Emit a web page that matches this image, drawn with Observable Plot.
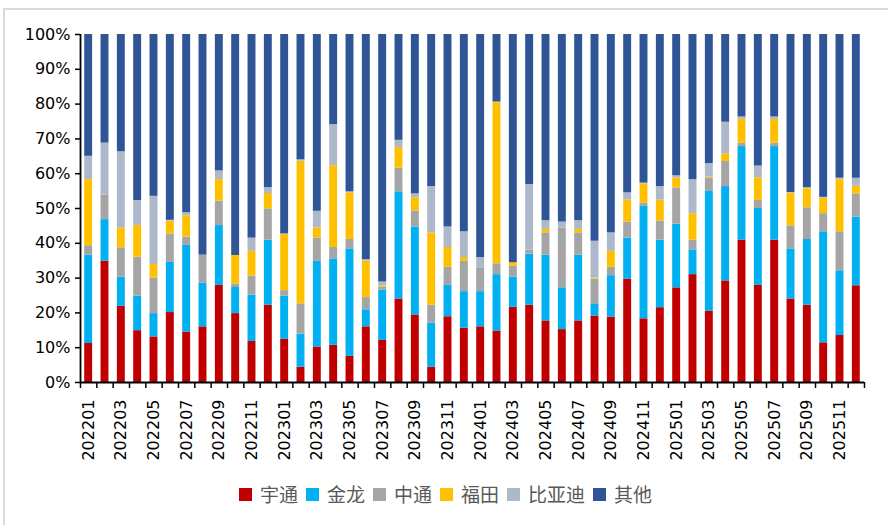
<!DOCTYPE html>
<html>
<head>
<meta charset="utf-8">
<script src="https://cdn.jsdelivr.net/npm/d3@7"></script>
<script src="https://cdn.jsdelivr.net/npm/@observablehq/plot@0.6"></script>
<style>
  html, body { margin: 0; padding: 0; background: #fff; }
  #wrap { position: relative; width: 888px; height: 525px; overflow: hidden; background: #fff; }
  #frame { position: absolute; left: 3px; top: 8px; width: 900px; height: 600px;
           border-left: 2px solid #d9d9d9; border-top: 2px solid #d9d9d9; box-sizing: border-box; }
  #chart { position: absolute; left: 0; top: 0; }
  #legend { position: absolute; left: 239px; top: 483px; display: flex; align-items: center;
            font-family: "Noto Sans CJK SC", sans-serif; font-size: 19px; color: #595959; line-height: 22px; }
  .item { display: flex; align-items: center; margin-right: 8px; }
  .sw { width: 13px; height: 13px; margin-right: 8px; }
</style>
</head>
<body>
<div id="wrap">
  <div id="frame"></div>
  <div id="chart"></div>
  <div id="legend"></div>
</div>
<script>
const months = ["202201","202202","202203","202204","202205","202206","202207","202208","202209","202210","202211","202212",
  "202301","202302","202303","202304","202305","202306","202307","202308","202309","202310","202311","202312",
  "202401","202402","202403","202404","202405","202406","202407","202408","202409","202410","202411","202412",
  "202501","202502","202503","202504","202505","202506","202507","202508","202509","202510","202511","202512"];

const seriesNames = ["宇通","金龙","中通","福田","比亚迪","其他"];
const seriesColors = ["#C00000","#00B0F0","#A5A5A5","#FFC000","#ADB9CA","#2F5597"];

const yutong = [11.2,34.9,21.9,14.9,13.1,20.1,14.5,16.0,27.9,19.8,11.8,22.2,
  12.4,4.4,10.2,10.7,7.5,16.0,12.1,24.0,19.4,4.4,18.9,15.6,
  16.0,14.8,21.6,22.2,17.7,15.2,17.7,19.1,18.8,29.7,18.3,21.5,
  27.2,31.0,20.5,29.2,40.9,27.9,40.9,24.0,22.2,11.4,13.5,27.8];
const jinlong = [25.4,11.9,8.4,9.9,6.7,14.4,24.9,12.5,17.2,7.5,13.3,18.7,
  12.4,9.5,24.6,24.8,30.9,4.9,14.4,30.8,25.3,12.6,9.0,10.5,
  10.1,16.2,8.7,14.7,18.9,12.0,18.9,3.5,11.9,11.8,32.3,19.4,
  18.3,7.1,34.4,27.1,26.9,22.1,26.9,14.4,18.9,31.9,18.6,19.7];
const zhongtong = [2.7,7.0,8.4,11.2,10.2,8.2,2.4,8.1,7.0,1.0,5.5,9.0,
  1.6,8.7,6.7,3.3,2.7,3.5,0.9,6.8,4.6,5.2,5.2,8.7,
  6.7,3.1,3.1,1.1,6.4,17.2,6.4,7.1,2.4,4.6,1.0,5.5,
  10.4,2.8,3.9,7.2,1.0,2.3,1.0,6.6,9.1,5.2,11.2,6.7];
const futian = [19.0,0,5.7,9.1,3.9,3.7,6.1,0,6.2,8.2,7.1,4.4,
  16.1,41.0,2.9,23.5,13.4,10.5,0.4,5.9,3.8,20.8,5.7,1.1,
  0,46.3,1.0,0,1.0,0,1.0,0.3,4.6,6.3,5.5,6.0,
  2.9,7.6,0.3,2.2,6.8,6.5,6.8,9.4,5.5,4.5,15.1,2.2];
const byd = [6.7,15.0,21.9,7.2,19.6,0.2,0.9,0,2.5,0,3.8,1.7,
  0.2,0.4,4.8,11.8,0.3,0.4,1.1,2.1,1.1,13.3,5.9,7.4,
  3.1,0.2,0,18.9,2.5,1.7,2.5,10.6,5.3,2.1,0.2,3.9,
  0.6,9.8,3.8,9.1,0.7,3.4,0.7,0.2,0.3,0.2,0.3,2.3];
const others = [35.0,31.2,33.7,47.7,46.5,53.4,51.2,63.4,39.2,63.5,58.5,44.0,
  57.3,36.0,50.8,25.9,45.2,64.7,71.1,30.4,45.8,43.7,55.3,56.7,
  64.1,19.4,65.6,43.1,53.5,53.9,53.5,59.4,57.0,45.5,42.7,43.7,
  40.6,41.7,37.1,25.2,23.7,37.8,23.7,45.4,44.0,46.8,41.3,41.3];

const yTicks = [0,0.1,0.2,0.3,0.4,0.5,0.6,0.7,0.8,0.9,1.0];

const seriesValues = [yutong, jinlong, zhongtong, futian, byd, others];
const rows = seriesNames.flatMap((s, k) =>
  months.map((m, i) => ({month: m, x1: i, x2: i + 1, series: s, value: seriesValues[k][i]})));

const boundaryTicks = d3.range(0, months.length + 1);
const labelTicks = months.map((m, i) => i).filter(i => i % 2 === 0).map(i => i + 0.5);

const chart = Plot.plot({
  width: 888,
  height: 470,
  marginLeft: 80,
  marginRight: 24,
  marginTop: 34,
  marginBottom: 88,
  x: {domain: [0, months.length], axis: null},
  y: {domain: [0, 1], axis: null},
  color: {domain: seriesNames, range: seriesColors},
  style: {fontFamily: "DejaVu Sans, sans-serif", fontSize: "16px", color: "#000", background: "transparent"},
  marks: [
    Plot.rectY(rows, Plot.stackY({x1: "x1", x2: "x2", y: "value", fill: "series", offset: "normalize", insetLeft: 4.2, insetRight: 4.2})),
    Plot.axisY({ticks: yTicks, label: null, tickFormat: d => `${Math.round(d * 100)}%`, tickSize: 5, tickPadding: 5, strokeWidth: 1.5, fontSize: 16}),
    Plot.axisX({ticks: boundaryTicks, label: null, tickSize: 6, tickFormat: () => "", strokeWidth: 1.5}),
    Plot.axisX({ticks: labelTicks, label: null, tickSize: 0, tickPadding: 17, tickRotate: -90, fontSize: 16,
                tickFormat: d => months[Math.floor(d)]}),
    Plot.ruleX([0], {strokeWidth: 1.8}),
    Plot.ruleY([0], {strokeWidth: 1.8})
  ]
});
document.getElementById("chart").appendChild(chart);

const legend = document.getElementById("legend");
seriesNames.forEach((s, k) => {
  const item = document.createElement("div");
  item.className = "item";
  const sw = document.createElement("div");
  sw.className = "sw";
  sw.style.background = seriesColors[k];
  const label = document.createElement("span");
  label.textContent = s;
  item.appendChild(sw);
  item.appendChild(label);
  legend.appendChild(item);
});
</script>
</body>
</html>
